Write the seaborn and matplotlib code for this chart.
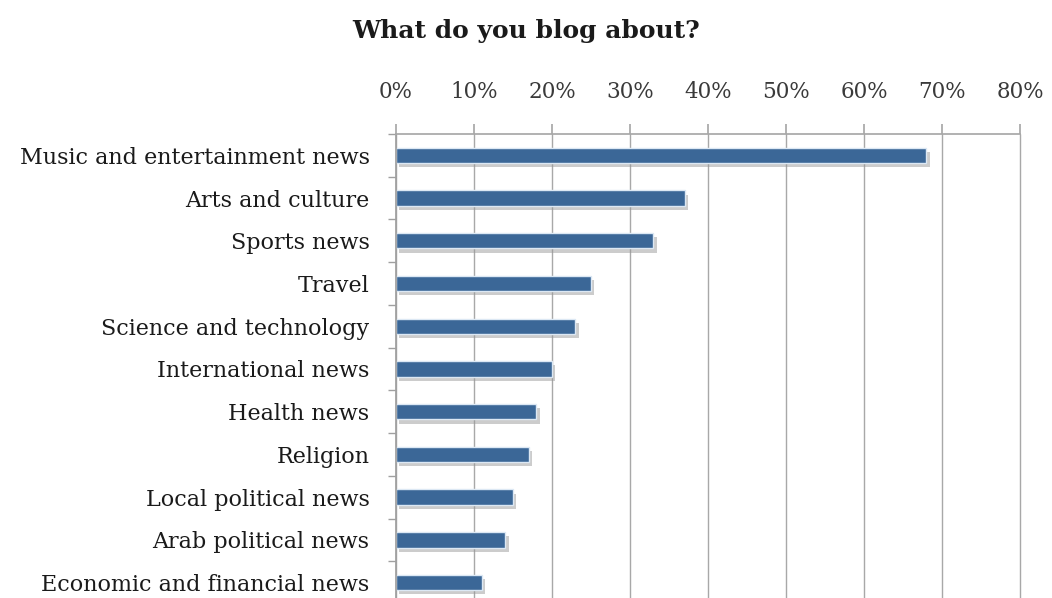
import matplotlib
matplotlib.use("Agg")
import matplotlib.pyplot as plt
import matplotlib.patheffects as pe
from matplotlib.ticker import FixedLocator, PercentFormatter
import seaborn as sns
import pandas as pd

topics = [
    "Music and entertainment news",
    "Arts and culture",
    "Sports news",
    "Travel",
    "Science and technology",
    "International news",
    "Health news",
    "Religion",
    "Local political news",
    "Arab political news",
    "Economic and financial news",
]
shares = [68, 37, 33, 25, 23, 20, 18, 17, 15, 14, 11]
x_ticks = [0, 10, 20, 30, 40, 50, 60, 70, 80]

df = pd.DataFrame({"topic": topics, "share": shares})

sns.set_theme(style="white")
plt.rcParams["font.family"] = ["DejaVu Serif"]

fig = plt.figure(figsize=(10.52, 5.98), dpi=100)
ax = fig.add_axes([0.3764, -0.010, 0.5932, 0.786])

sns.barplot(data=df, x="share", y="topic", orient="h", color="#3b6797",
            width=0.36, ax=ax, saturation=1, edgecolor="#dce8f4", linewidth=1.0)

# soft drop shadow under each bar
for bar in ax.patches:
    bar.set_path_effects([
        pe.SimplePatchShadow(offset=(2.5, -3), shadow_rgbFace="#9a9a9a", alpha=0.5),
        pe.Normal(),
    ])

ax.set_xlim(0, 80)
ax.set_ylim(len(topics) - 0.5, -0.5)
ax.xaxis.tick_top()
ax.set_xticks(x_ticks)
ax.xaxis.set_major_formatter(PercentFormatter(decimals=0))
ax.grid(axis="x", color="#a8a8a8", linewidth=1.0)
for gl in ax.get_xgridlines():
    gl.set_clip_on(False)
ax.set_axisbelow(True)
ax.set_xlabel("")
ax.set_ylabel("")

for side in ["right", "bottom"]:
    ax.spines[side].set_visible(False)
ax.spines["left"].set_color("#a0a0a0")
ax.spines["top"].set_color("#a8a8a8")

ax.tick_params(axis="x", which="major", top=True, length=7, color="#a8a8a8",
               labelsize=15.5, labelcolor="#3a3a3a", pad=15)
ax.tick_params(axis="y", which="major", left=False, length=0, labelsize=16,
               labelcolor="#1a1a1a", pad=19)
# category boundary tick marks on the left axis
ax.yaxis.set_minor_locator(FixedLocator([i - 0.5 for i in range(len(topics) + 1)]))
ax.tick_params(axis="y", which="minor", left=True, length=6, color="#a0a0a0")

fig.text(0.500, 0.948, "What do you blog about?", ha="center", va="center",
         fontsize=18, fontweight="bold", color="#1a1a1a")

fig.savefig("out.png", dpi=100, facecolor="white")
